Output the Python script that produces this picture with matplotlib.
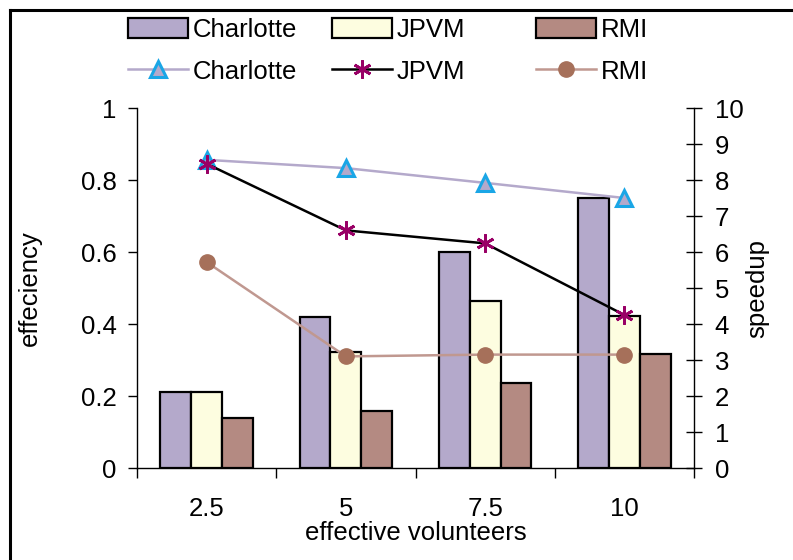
import matplotlib
matplotlib.use("Agg")
import matplotlib.pyplot as plt
from matplotlib.lines import Line2D
import numpy as np

plt.rcParams['font.family'] = ['Liberation Sans', 'DejaVu Sans']

categories = ["2.5", "5", "7.5", "10"]
series = ["Charlotte", "JPVM", "RMI"]
speedup_charlotte = [2.1, 4.2, 6.0, 7.5]
speedup_jpvm = [2.1, 3.22, 4.65, 4.22]
speedup_rmi = [1.4, 1.58, 2.35, 3.18]
eff_charlotte = [0.856, 0.833, 0.792, 0.75]
eff_jpvm = [0.845, 0.66, 0.624, 0.425]
eff_rmi = [0.572, 0.31, 0.315, 0.315]
left_ticks = [0, 0.2, 0.4, 0.6, 0.8, 1]
left_ticklabels = ["0", "0.2", "0.4", "0.6", "0.8", "1"]
right_ticks = list(range(0, 11))

bar_colors = ["#b4a9cb", "#fdfde0", "#b48a82"]
FS = 18.5

fig = plt.figure(figsize=(7.93, 5.6), dpi=100)
W, H = 793, 560
ax = fig.add_axes([137 / W, 1 - 468 / H, (694 - 137) / W, (468 - 108) / H])
ax2 = ax.twinx()

x = np.arange(len(categories))
bw = 0.222
bars = []
for i, (vals, c) in enumerate(zip([speedup_charlotte, speedup_jpvm, speedup_rmi], bar_colors)):
    b = ax2.bar(x + (i - 1) * bw, vals, width=bw, color=c, edgecolor="black", linewidth=1.6, zorder=2)
    bars.append(b)

l1, = ax.plot(x, eff_charlotte, color="#b4a9cb", lw=1.8, marker="^", ms=11,
              mfc="#b4a9cb", mec="#1aa6e6", mew=2.2, zorder=5)
l2, = ax.plot(x, eff_jpvm, color="black", lw=1.8, marker=(6, 2, 0), ms=13,
              mec="#990066", mfc="#990066", mew=2.0, zorder=5)
l3, = ax.plot(x, eff_rmi, color="#c09890", lw=1.8, marker="o", ms=11,
              mfc="#a6705a", mec="#a6705a", zorder=5)

ax.set_zorder(ax2.get_zorder() + 1)
ax.patch.set_visible(False)

ax.set_xlim(-0.5, 3.5)
ax.set_ylim(0, 1)
ax2.set_ylim(0, 10)

for a in (ax, ax2):
    a.spines['top'].set_visible(False)
ax.spines['right'].set_visible(False)
ax2.spines['left'].set_visible(False)
ax2.spines['bottom'].set_visible(False)
for sp in ['left', 'bottom']:
    ax.spines[sp].set_linewidth(1.0)
ax2.spines['right'].set_linewidth(1.0)

ax.set_yticks(left_ticks)
ax.set_yticklabels(left_ticklabels)
ax.tick_params(axis='y', direction='out', length=6.5, width=1.0, pad=8, labelsize=FS)
ax2.set_yticks(right_ticks)
ax2.tick_params(axis='y', direction='inout', length=12, width=1.0, pad=9, labelsize=FS)

ax.set_xticks(np.arange(-0.5, 4, 1.0))
ax.set_xticklabels([])
ax.set_xticks(x, minor=True)
ax.set_xticklabels(categories, minor=True)
ax.tick_params(axis='x', which='major', direction='out', length=7, width=1.0)
ax.tick_params(axis='x', which='minor', length=0, pad=21, labelsize=FS)

ax.set_ylabel("effeciency", fontsize=FS, labelpad=28)
ax2.set_ylabel("speedup", fontsize=FS, labelpad=1)
ax.set_xlabel("effective volunteers", fontsize=FS, labelpad=0)

# legends: three columns of (bar, line)
col_x = [128, 332, 536]
line_handles = [l1, l2, l3]
for i in range(3):
    fig.legend([bars[i], line_handles[i]], [series[i], series[i]],
               loc="upper left", bbox_to_anchor=(col_x[i] / W, 1 - 18 / H),
               frameon=False, fontsize=FS, handlelength=2.35, handleheight=0.85,
               handletextpad=0.18, labelspacing=0.68, borderaxespad=0, borderpad=0)

# figure frame (top and left)
fig.add_artist(Line2D([10 / W, 1.0], [1 - 10 / H, 1 - 10 / H], color="black", lw=2.2,
                      transform=fig.transFigure))
fig.add_artist(Line2D([10 / W, 10 / W], [0, 1 - 10 / H], color="black", lw=2.2,
                      transform=fig.transFigure))

fig.savefig("out.png", dpi=100)
